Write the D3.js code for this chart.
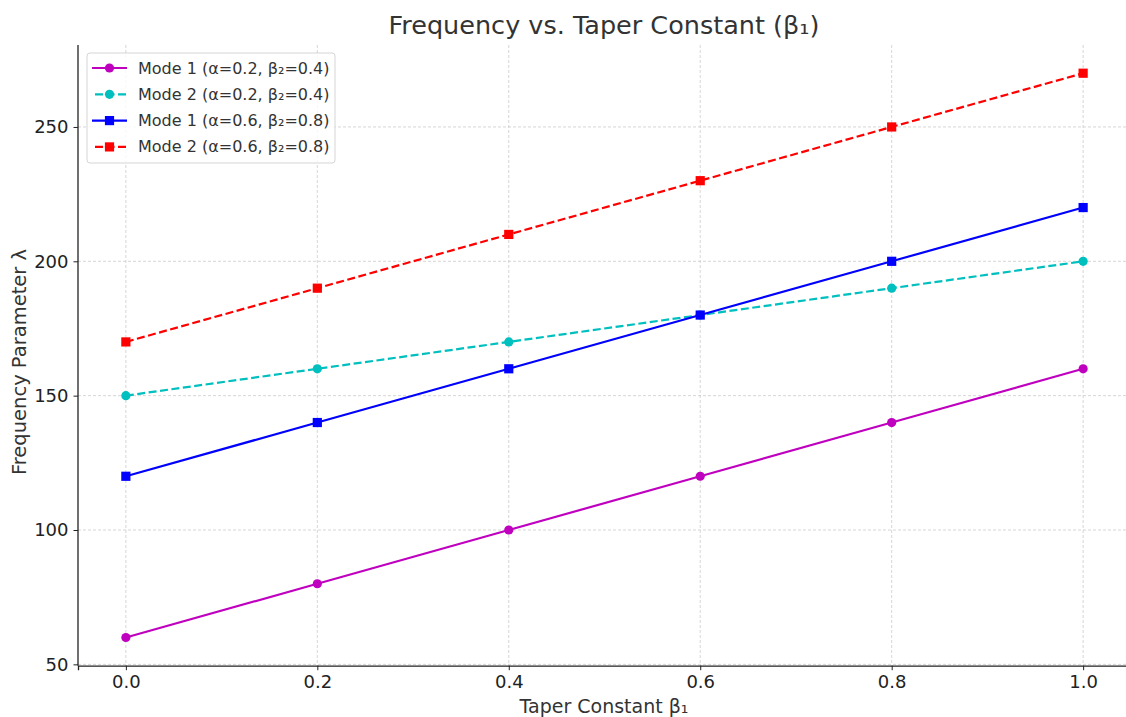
<!DOCTYPE html>
<html>
<head>
<meta charset="utf-8">
<script src="https://cdn.jsdelivr.net/npm/d3@7"></script>
<style>
  body { margin: 0; background: #fff; }
  svg { font-family: "DejaVu Sans", sans-serif; }
</style>
</head>
<body>
<svg id="chart" width="1126" height="717"></svg>
<script>
// data
var taper = [0.0, 0.2, 0.4, 0.6, 0.8, 1.0];
var mode1Low = [60, 80, 100, 120, 140, 160];
var mode2Low = [150, 160, 170, 180, 190, 200];
var mode1High = [120, 140, 160, 180, 200, 220];
var mode2High = [170, 190, 210, 230, 250, 270];
var xTicks = [0.0, 0.2, 0.4, 0.6, 0.8, 1.0];
var yTicks = [50, 100, 150, 200, 250];

var series = [
  { name: "Mode 1 (α=0.2, β₂=0.4)", values: mode1Low, color: "#bf00bf", dashed: false, marker: "circle" },
  { name: "Mode 2 (α=0.2, β₂=0.4)", values: mode2Low, color: "#00bfbf", dashed: true, marker: "circle" },
  { name: "Mode 1 (α=0.6, β₂=0.8)", values: mode1High, color: "#0000ff", dashed: false, marker: "square" },
  { name: "Mode 2 (α=0.6, β₂=0.8)", values: mode2High, color: "#ff0000", dashed: true, marker: "square" }
];

const svg = d3.select("#chart");

// plot box (the right edge runs past the window, as in the picture)
var plotLeft = 78, plotRight = 1131, plotTop = 45, plotBottom = 665.7;

const x = d3.scaleLinear().domain([-0.05, 1.05]).range([plotLeft, plotRight]);
const y = d3.scaleLinear().domain([49.5, 280.5]).range([plotBottom, plotTop]);

// grid lines
svg.append("g").selectAll("line")
  .data(xTicks).enter().append("line")
  .attr("x1", d => x(d)).attr("x2", d => x(d))
  .attr("y1", plotTop).attr("y2", plotBottom)
  .attr("stroke", "#cccccc").attr("stroke-width", 0.8)
  .attr("stroke-dasharray", "3,2");

svg.append("g").selectAll("line")
  .data(yTicks).enter().append("line")
  .attr("x1", plotLeft).attr("x2", plotRight)
  .attr("y1", d => y(d)).attr("y2", d => y(d))
  .attr("stroke", "#cccccc").attr("stroke-width", 0.8)
  .attr("stroke-dasharray", "3,2");

// axes
const xAxis = svg.append("g")
  .attr("transform", `translate(0,${plotBottom})`)
  .call(d3.axisBottom(x).tickValues(xTicks).tickFormat(d3.format(".1f")).tickSizeOuter(0).tickSize(4.5).tickPadding(5));
const yAxis = svg.append("g")
  .attr("transform", `translate(${plotLeft},0)`)
  .call(d3.axisLeft(y).tickValues(yTicks).tickSizeOuter(0).tickSize(4.5).tickPadding(5));

[xAxis, yAxis].forEach(function (ax) {
  ax.select(".domain").attr("stroke", "#222").attr("stroke-width", 1.3);
  ax.selectAll(".tick line").attr("stroke", "#222").attr("stroke-width", 1);
  ax.selectAll(".tick text").attr("fill", "#222").attr("font-size", "18px")
    .attr("font-family", "DejaVu Sans, sans-serif");
});
yAxis.select(".domain").attr("d", `M0,${plotTop}V${plotBottom}`);

// lines and markers
const line = d3.line().x((d, i) => x(taper[i])).y(d => y(d));

series.forEach(function (s) {
  svg.append("path")
    .attr("d", line(s.values))
    .attr("fill", "none")
    .attr("stroke", s.color)
    .attr("stroke-width", 2.2)
    .attr("stroke-dasharray", s.dashed ? "8,3.5" : null);

  if (s.marker === "circle") {
    svg.append("g").selectAll("circle")
      .data(s.values).enter().append("circle")
      .attr("cx", (d, i) => x(taper[i]))
      .attr("cy", d => y(d))
      .attr("r", 4.6)
      .attr("fill", s.color);
  } else {
    svg.append("g").selectAll("rect")
      .data(s.values).enter().append("rect")
      .attr("x", (d, i) => x(taper[i]) - 4.6)
      .attr("y", d => y(d) - 4.6)
      .attr("width", 9.2).attr("height", 9.2)
      .attr("fill", s.color);
  }
});

// legend
const legend = svg.append("g").attr("transform", "translate(87,53)");
legend.append("rect")
  .attr("x", 0).attr("y", 0).attr("width", 248).attr("height", 110)
  .attr("rx", 3).attr("fill", "white").attr("fill-opacity", 0.8)
  .attr("stroke", "#d5d5d5").attr("stroke-width", 1);

series.forEach(function (s, i) {
  var ly = 15 + i * 26.3;
  legend.append("line")
    .attr("x1", 5).attr("x2", 40).attr("y1", ly).attr("y2", ly)
    .attr("stroke", s.color).attr("stroke-width", 2.2)
    .attr("stroke-dasharray", s.dashed ? "8,3.5" : null)
    .attr("stroke-dashoffset", s.dashed ? -3 : 0);
  if (s.marker === "circle") {
    legend.append("circle").attr("cx", 22.5).attr("cy", ly).attr("r", 4.6).attr("fill", s.color);
  } else {
    legend.append("rect").attr("x", 22.5 - 4.6).attr("y", ly - 4.6)
      .attr("width", 9.2).attr("height", 9.2).attr("fill", s.color);
  }
  legend.append("text")
    .attr("x", 51).attr("y", ly + 5.5)
    .attr("font-size", "16px").attr("fill", "#333")
    .text(s.name);
});

// title and axis labels
svg.append("text")
  .attr("x", 604).attr("y", 34)
  .attr("text-anchor", "middle")
  .attr("font-size", "25.5px").attr("fill", "#333")
  .text("Frequency vs. Taper Constant (β₁)");

svg.append("text")
  .attr("x", 604).attr("y", 713)
  .attr("text-anchor", "middle")
  .attr("font-size", "19px").attr("fill", "#333")
  .text("Taper Constant β₁");

svg.append("text")
  .attr("transform", "translate(26,362) rotate(-90)")
  .attr("text-anchor", "middle")
  .attr("font-size", "19.5px").attr("fill", "#333")
  .text("Frequency Parameter λ");
</script>
</body>
</html>
